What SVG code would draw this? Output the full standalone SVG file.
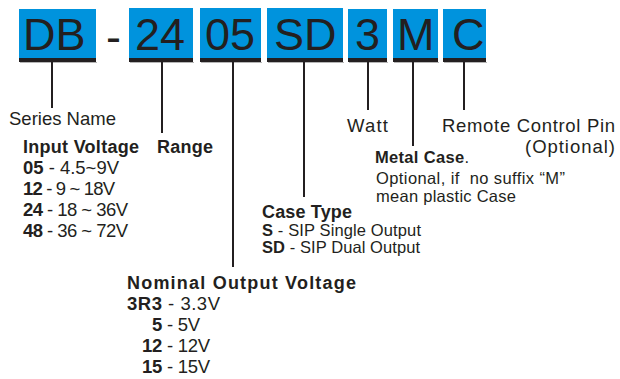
<svg xmlns="http://www.w3.org/2000/svg" width="620" height="379" viewBox="0 0 620 379">
<style>
.box{fill:#0093dd}
.bar{fill:#231f20}
.sh{fill:#b5b5b5}
.code{font-family:"Liberation Sans",Arial,sans-serif;font-size:45px;fill:#231f20}
.t{font-family:"Liberation Sans",Arial,sans-serif;font-size:18.5px;fill:#231f20}
.s{font-family:"Liberation Sans",Arial,sans-serif;font-size:16.5px;fill:#231f20}
.b{font-weight:bold}
.hb{font-family:"Liberation Sans",Arial,sans-serif;font-size:18px;font-weight:bold;fill:#231f20}
.ln{stroke:#231f20;stroke-width:2;fill:none}
</style>
<rect width="620" height="379" fill="#fff"/>
<g id="seg-DB"><rect class="box" x="19" y="9" width="77" height="49"/><rect class="sh" x="20" y="62" width="77" height="1"/><rect class="bar" x="19" y="58" width="77" height="4"/><text class="code" x="23" y="50">DB</text></g>
<g id="seg-dash"><text class="code" x="106" y="52">-</text></g>
<g id="seg-24"><rect class="box" x="129" y="8" width="64" height="50"/><rect class="sh" x="130" y="62" width="64" height="1"/><rect class="bar" x="129" y="58" width="64" height="4"/><text class="code" x="135" y="50">24</text></g>
<g id="seg-05"><rect class="box" x="200" y="8" width="61" height="50"/><rect class="sh" x="201" y="62" width="61" height="1"/><rect class="bar" x="200" y="58" width="61" height="4"/><text class="code" x="205" y="50">05</text></g>
<g id="seg-SD"><rect class="box" x="267" y="8" width="76" height="50"/><rect class="sh" x="268" y="62" width="76" height="1"/><rect class="bar" x="267" y="58" width="76" height="4"/><text class="code" x="274" y="50">SD</text></g>
<g id="seg-3"><rect class="box" x="348" y="9" width="39" height="49"/><rect class="sh" x="349" y="62" width="39" height="1"/><rect class="bar" x="348" y="58" width="39" height="4"/><text class="code" x="355" y="50">3</text></g>
<g id="seg-M"><rect class="box" x="393" y="9" width="45" height="49"/><rect class="sh" x="394" y="62" width="45" height="1"/><rect class="bar" x="393" y="58" width="45" height="4"/><text class="code" x="397" y="50">M</text></g>
<g id="seg-C"><rect class="box" x="443" y="9" width="43" height="49"/><rect class="sh" x="444" y="62" width="43" height="1"/><rect class="bar" x="443" y="58" width="43" height="4"/><text class="code" x="452" y="50">C</text></g>

<g id="connectors">
<line class="ln" x1="52" y1="62" x2="52" y2="108"/>
<line class="ln" x1="162" y1="62" x2="162" y2="133"/>
<line class="ln" x1="233" y1="62" x2="233" y2="267"/>
<line class="ln" x1="304" y1="62" x2="304" y2="197"/>
<line class="ln" x1="368" y1="62" x2="368" y2="110"/>
<line class="ln" x1="413" y1="62" x2="413" y2="146"/>
<line class="ln" x1="464" y1="62" x2="464" y2="110"/>
</g>

<g id="label-series"><text class="t" x="9" y="125" textLength="107">Series Name</text></g>
<g id="label-input">
<text class="hb" x="23" y="153" textLength="116">Input Voltage</text>
<text class="t" x="23" y="174" textLength="96"><tspan class="b">05</tspan> - 4.5~9V</text>
<text class="t" x="23" y="195" textLength="92"><tspan class="b">12</tspan> - 9 ~ 18V</text>
<text class="t" x="23" y="216" textLength="105"><tspan class="b">24</tspan> - 18 ~ 36V</text>
<text class="t" x="23" y="237" textLength="105"><tspan class="b">48</tspan> - 36 ~ 72V</text>
</g>
<g id="label-range"><text class="hb" x="157" y="153" textLength="56">Range</text></g>
<g id="label-watt"><text class="t" x="347" y="132" textLength="41">Watt</text></g>
<g id="label-remote">
<text class="t" x="442" y="132" textLength="173">Remote Control Pin</text>
<text class="t" x="525" y="153" textLength="90">(Optional)</text>
</g>
<g id="label-metal">
<text class="s" x="375" y="163" textLength="94"><tspan class="b">Metal Case</tspan>.</text>
<text class="s" x="376" y="184" textLength="189" xml:space="preserve">Optional, if  no suffix “M”</text>
<text class="s" x="376" y="202" textLength="140">mean plastic Case</text>
</g>
<g id="label-case">
<text class="hb" x="262" y="218" textLength="90">Case Type</text>
<text class="s" x="262" y="236" textLength="159"><tspan class="b">S</tspan> - SIP Single Output</text>
<text class="s" x="262" y="253" textLength="158"><tspan class="b">SD</tspan> - SIP Dual Output</text>
</g>
<g id="label-output">
<text class="hb" x="127" y="289" textLength="229">Nominal Output Voltage</text>
<text class="t" x="127" y="310" textLength="93"><tspan class="b">3R3</tspan> - 3.3V</text>
<text class="t" x="152" y="331" textLength="48"><tspan class="b">5</tspan> - 5V</text>
<text class="t" x="142" y="352" textLength="68"><tspan class="b">12</tspan> - 12V</text>
<text class="t" x="142" y="373" textLength="68"><tspan class="b">15</tspan> - 15V</text>
</g>
</svg>
